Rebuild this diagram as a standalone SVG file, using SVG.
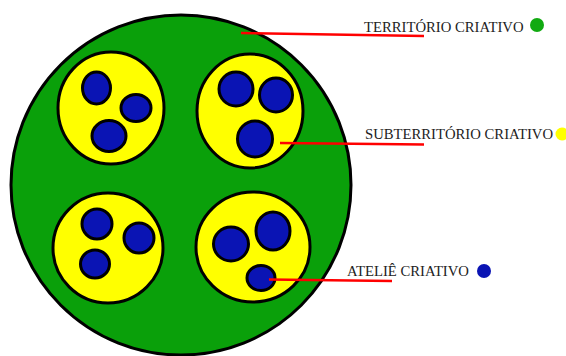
<svg xmlns="http://www.w3.org/2000/svg" width="566" height="356" viewBox="0 0 566 356">
<style>
.ter{fill:#0aa00a;stroke:#000;stroke-width:3}
.sub{fill:#ffff00;stroke:#000;stroke-width:3}
.at{fill:#0a14b4;stroke:#000;stroke-width:3}
.lbl{font-family:"Liberation Serif","Times New Roman",serif;font-size:14.7px;fill:#222}
.lead{stroke:#f00;stroke-width:2.5;fill:none}
</style>
<rect width="566" height="356" fill="#fff"/>
<g id="territorio">
<ellipse class="ter" cx="181" cy="185" rx="170" ry="170"/>
</g>
<g id="sub-tl">
<ellipse class="sub" cx="111" cy="108" rx="53" ry="56"/>
<ellipse class="at" cx="96.5" cy="88" rx="14" ry="16"/>
<ellipse class="at" cx="136" cy="108" rx="15" ry="13.5"/>
<ellipse class="at" cx="109" cy="136" rx="17" ry="15.5"/>
</g>
<g id="sub-tr">
<ellipse class="sub" cx="250" cy="111" rx="53" ry="57"/>
<ellipse class="at" cx="236" cy="89" rx="17" ry="17"/>
<ellipse class="at" cx="276" cy="95" rx="16.5" ry="17"/>
<ellipse class="at" cx="255" cy="139" rx="17.5" ry="18"/>
</g>
<g id="sub-bl">
<ellipse class="sub" cx="108" cy="248" rx="55" ry="55"/>
<ellipse class="at" cx="97" cy="224" rx="15" ry="15"/>
<ellipse class="at" cx="139" cy="238" rx="15" ry="15"/>
<ellipse class="at" cx="95" cy="264" rx="14.5" ry="14"/>
</g>
<g id="sub-br">
<ellipse class="sub" cx="253" cy="247" rx="57" ry="55"/>
<ellipse class="at" cx="231" cy="244" rx="17.5" ry="17"/>
<ellipse class="at" cx="273" cy="231" rx="17" ry="19"/>
<ellipse class="at" cx="261" cy="278" rx="14" ry="12.5"/>
</g>
<g id="connectors">
<line class="lead" x1="241" y1="33" x2="424" y2="36"/>
<line class="lead" x1="280" y1="143" x2="424" y2="144.5"/>
<line class="lead" x1="269" y1="279.5" x2="392" y2="281"/>
</g>
<g id="legend-territorio">
<text class="lbl" x="364" y="32">TERRITÓRIO CRIATIVO</text>
<circle cx="537" cy="25" r="7" fill="#11aa11"/>
</g>
<g id="legend-sub">
<text class="lbl" x="365" y="139" font-size="14.5">SUBTERRITÓRIO CRIATIVO</text>
<circle cx="562" cy="134" r="6.5" fill="#ffff00"/>
</g>
<g id="legend-atelie">
<text class="lbl" x="347" y="276">ATELIÊ CRIATIVO</text>
<circle cx="484" cy="271" r="7" fill="#0a14b4"/>
</g>
</svg>
